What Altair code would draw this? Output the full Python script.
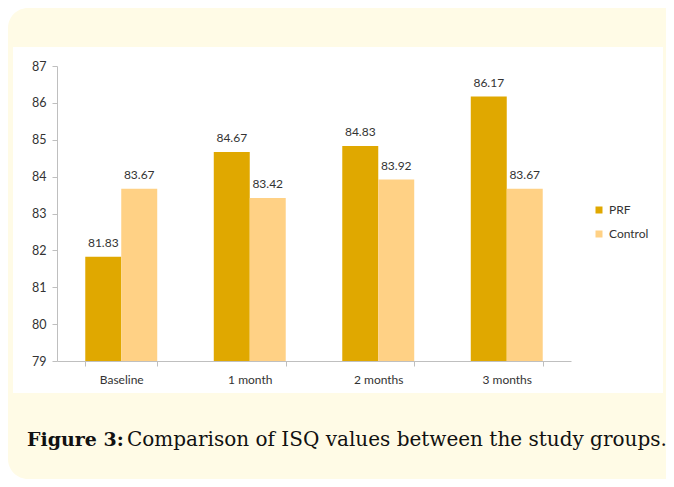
import altair as alt
import pandas as pd

categories = ["Baseline", "1 month", "2 months", "3 months"]
groups = ["PRF", "Control"]
prf_values = [81.83, 84.67, 84.83, 86.17]
control_values = [83.67, 83.42, 83.92, 83.67]
y_ticks = [79, 80, 81, 82, 83, 84, 85, 86, 87]
caption_bold = "Figure 3:"
caption_rest = "Comparison of ISQ values between the study groups."

rows = []
for c, p, k in zip(categories, prf_values, control_values):
    rows.append({"cat": c, "group": "PRF", "value": p})
    rows.append({"cat": c, "group": "Control", "value": k})
df = pd.DataFrame(rows)
one = pd.DataFrame({"a": [0]})

FONT = "Lato"
W, H = 514, 295

x_axis = alt.Axis(title=None, labelAngle=0, tickBand="extent",
                  domainColor="#BFBFBF", tickColor="#BFBFBF",
                  tickSize=5, labelPadding=8, labelFontSize=12,
                  labelColor="#333333", labelFont=FONT, zindex=1)
y_axis = alt.Axis(title=None, values=y_ticks, grid=False,
                  labelOverlap=False, labelFlush=False,
                  domainColor="#BFBFBF", tickColor="#BFBFBF",
                  tickSize=5, labelPadding=6, labelFontSize=12.5,
                  labelColor="#333333", labelFont=FONT, zindex=1)
x_scale = alt.Scale(paddingInner=0.44, paddingOuter=0.22)
y_scale = alt.Scale(domain=[79, 87], zero=False, nice=False)

xo_enc = alt.XOffset("group:N", sort=groups,
                     scale=alt.Scale(paddingInner=0, paddingOuter=0))
color_enc = alt.Color("group:N", sort=groups,
                      scale=alt.Scale(domain=groups, range=["#E0A800", "#FFD185"]),
                      legend=alt.Legend(title=None, orient="none", legendX=536,
                                        legendY=138, symbolType="square",
                                        symbolSize=49, symbolStrokeWidth=0,
                                        labelFontSize=12, labelFont=FONT,
                                        labelColor="#333333", rowPadding=12,
                                        zindex=1))

cream = alt.Chart(one).mark_rect(color="#FFFBE6", cornerRadius=20).encode(
    x=alt.value(-49), x2=alt.value(640), y=alt.value(-58), y2=alt.value(413))
white = alt.Chart(one).mark_rect(color="#FFFFFF").encode(
    x=alt.value(-44), x2=alt.value(606), y=alt.value(-19), y2=alt.value(327))

bars = alt.Chart(df).mark_bar().encode(
    x=alt.X("cat:N", sort=categories, scale=x_scale, axis=x_axis),
    xOffset=xo_enc,
    y=alt.Y("value:Q", scale=y_scale, axis=y_axis),
    y2=alt.datum(79),
    color=color_enc)

labels = alt.Chart(df).mark_text(baseline="bottom", dy=-7, fontSize=12,
                                 font=FONT, color="#333333").encode(
    x=alt.X("cat:N", sort=categories, scale=x_scale, axis=x_axis),
    xOffset=xo_enc,
    y=alt.Y("value:Q", scale=y_scale, axis=y_axis),
    text=alt.Text("value:Q", format=".2f"))

cap1 = alt.Chart(one).mark_text(text=caption_bold, font="DejaVu Serif",
                                fontWeight="bold", fontSize=19, align="left",
                                baseline="alphabetic", color="#111111").encode(
    x=alt.value(-30), y=alt.value(380))
cap2 = alt.Chart(one).mark_text(text=caption_rest, font="DejaVu Serif",
                                fontSize=20, align="left",
                                baseline="alphabetic", color="#111111").encode(
    x=alt.value(70), y=alt.value(380))

chart = alt.layer(cream, white, bars, labels, cap1, cap2).properties(
    width=W, height=H,
    autosize=alt.AutoSizeParams(type="none"),
    padding={"left": 49, "top": 58, "right": 95, "bottom": 118},
).configure_view(stroke=None)

chart.save("out.html", embed_options={"renderer": "svg", "actions": False})
